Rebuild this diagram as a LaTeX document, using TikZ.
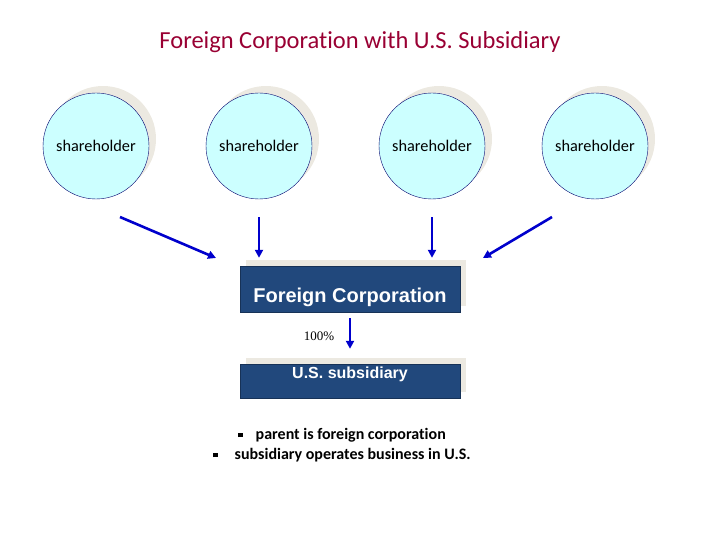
\documentclass[tikz,border=0pt]{standalone}
\usepackage{fontspec}
\setmainfont[Ligatures=NoCommon]{Carlito}
\newfontfamily\arialfont{Liberation Sans}
\newfontfamily\timesfont{Liberation Serif}
\usetikzlibrary{shadows,arrows.meta}
\definecolor{titlered}{RGB}{153,0,51}
\definecolor{circfill}{RGB}{204,255,255}
\definecolor{circline}{RGB}{0,0,110}
\definecolor{boxblue}{RGB}{33,72,124}
\definecolor{shadowgray}{RGB}{236,233,225}
\definecolor{arrowblue}{RGB}{0,0,204}

\tikzset{
  holder/.style={draw=circline, fill=circfill, circle, minimum size=106pt, inner sep=0pt,
    font=\fontsize{16.3}{18}\selectfont,
    general shadow={shadow xshift=7pt, shadow yshift=7pt, fill=shadowgray}},
  corpbox/.style={draw=boxblue!70!black, fill=boxblue, text=white, minimum width=220pt, inner sep=0pt,
    general shadow={shadow xshift=6pt, shadow yshift=6pt, fill=shadowgray}},
  arr/.style={draw=arrowblue, line width=2.6pt, -{Triangle[length=8pt,width=8pt]}}
}

\begin{document}
\begin{tikzpicture}[x=1pt, y=-1pt, every node/.style={inner sep=0pt}]
                \useasboundingbox (0,0) rectangle (720,540);

                \node[anchor=base, text=titlered, font=\fontsize{24.5}{28}\selectfont] (title) at (360,49) {Foreign Corporation with U.S. Subsidiary};

                \node[holder] (sh1) at (96,146) {shareholder};
                \node[holder] (sh2) at (259,146) {shareholder};
                \node[holder] (sh3) at (432,146) {shareholder};
                \node[holder] (sh4) at (595,146) {shareholder};

                \node[corpbox, text height=36pt, text depth=10pt, font=\arialfont\bfseries\fontsize{20}{23}\selectfont] (fc) at (350,289) {Foreign Corporation};
                \node[corpbox, text height=14pt, text depth=20pt, font=\arialfont\bfseries\fontsize{16}{18}\selectfont] (us) at (350,381) {U.S. subsidiary};

                \coordinate (s1) at (120,217);
                \coordinate (e1) at (216,258);
                \coordinate (s4) at (552,217);
                \coordinate (e4) at (483,258);

                \draw[arr] (s1) -- (e1);
                \draw[arr, shorten <=18pt, shorten >=8pt] (sh2.south) -- (sh2.south |- fc.north);
                \draw[arr, shorten <=18pt, shorten >=8pt] (sh3.south) -- (sh3.south |- fc.north);
                \draw[arr] (s4) -- (e4);

                \draw[arr, shorten <=6pt, shorten >=15pt] (fc.south) -- (us.north);
                \node[anchor=base, font=\timesfont\fontsize{13}{15}\selectfont] (pct) at (319,340) {100\%};

                \node[anchor=base west, font=\bfseries\fontsize{16}{18}\selectfont] (note1) at (238,439) {\rule[2pt]{4.5pt}{4.5pt}\hspace{13pt}parent is foreign corporation};
                \node[anchor=base west, font=\bfseries\fontsize{16}{18}\selectfont] (note2) at (213,459) {\rule[2pt]{4.5pt}{4.5pt}\hspace{17pt}subsidiary operates business in U.S.};
            \end{tikzpicture}
\end{document}
